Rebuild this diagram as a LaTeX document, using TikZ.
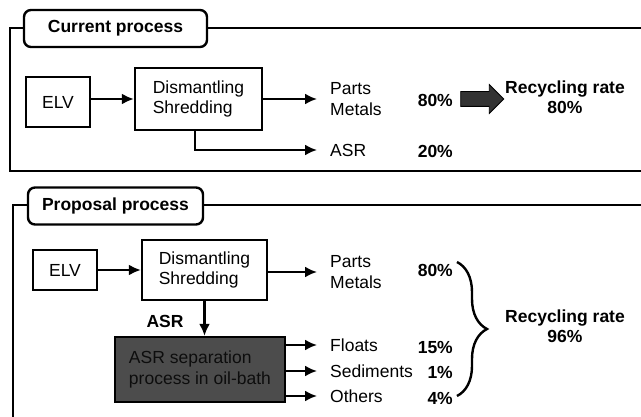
\documentclass[tikz,border=0pt]{standalone}
\usepackage{fontspec}
\setmainfont{Liberation Sans}
\usetikzlibrary{arrows.meta,positioning,shapes.arrows,decorations.pathreplacing}

\begin{document}
\begin{tikzpicture}[x=1pt,y=-1pt]
\tikzstyle{every node}=[font=\fontsize{17.5}{20.5}\selectfont]
\tikzstyle{frame}=[line width=2.4pt]
\tikzstyle{title}=[draw,line width=2.4pt,rounded corners=7pt,fill=white,font=\fontsize{17.5}{20.5}\selectfont\bfseries,minimum height=37pt]
\tikzstyle{stepbox}=[draw,line width=2.4pt,inner sep=0pt]
\tikzstyle{item}=[anchor=west,align=left,inner xsep=13pt,inner ysep=0pt]
\tikzstyle{pct}=[anchor=east,inner sep=0pt,font=\fontsize{17.5}{20.5}\selectfont\bfseries]
\tikzstyle{rate}=[align=center,font=\fontsize{17.5}{20.5}\selectfont\bfseries]
\tikzstyle{flow}=[line width=2.2pt,-{Latex[length=12pt,width=11pt]}]

\useasboundingbox (0,0) rectangle (641,417);

% current process
\draw[frame] (641,28) -- (10,28) -- (10,171) -- (641,171);
\node[title,minimum width=183pt] (cur) at (115.5,28.5) {Current process};
\node[stepbox,minimum width=64pt,minimum height=50pt] (elv1) at (58,102) {ELV};
\node[stepbox,align=left,minimum width=127pt,minimum height=62pt] (dis1) at (198.5,99) {Dismantling\\Shredding};
\node[item] (pm1) at (317,99) {Parts\\Metals};
\node[item] (asr1) at (317,150) {ASR};
\node[pct] (p80a) at (453,100) {80\%};
\node[pct] (p20a) at (453,151) {20\%};
\node[single arrow,draw,fill=black!80,line width=0.8pt,inner sep=0pt,minimum height=43pt,
  text height=14pt,single arrow head extend=7pt] (big) at (478.5,99) {};
\node[rate] (rate1) at (565,97) {Recycling rate\\80\%};

\draw[flow] (elv1.east |- dis1.west) -- (dis1.west);
\draw[flow] (dis1.east) -- (pm1.west);
\draw[flow] ([xshift=-3.5pt]dis1.south) |- (asr1.west);

% proposal process
\draw[frame] (641,205) -- (13,205) -- (13,417);
\node[title,minimum width=175pt] (prop) at (115.5,206) {Proposal process};
\node[stepbox,minimum width=64pt,minimum height=40pt] (elv2) at (65,270) {ELV};
\node[stepbox,align=left,minimum width=125pt,minimum height=60pt] (dis2) at (204.5,270) {Dismantling\\Shredding};
\node[item] (pm2) at (317,272) {Parts\\Metals};
\node[stepbox,fill=black!70,text=black!95,align=left,minimum width=170pt,minimum height=65pt] (oil) at (200,369.5) {ASR separation\\process in oil-bath};
\node[item] (flo) at (317,345) {Floats};
\node[item] (sed) at (317,371) {Sediments};
\node[item] (oth) at (317,396) {Others};
\node[pct] (p80b) at (453,270) {80\%};
\node[pct] (p15) at (453,347) {15\%};
\node[pct] (p1) at (453,372) {1\%};
\node[pct] (p4) at (453,398) {4\%};
\node[pct,anchor=center] (asr2) at (165,321) {ASR};
\node[rate] (rate2) at (565,326) {Recycling rate\\96\%};

\draw[flow] (elv2) -- (dis2);
\draw[flow] (dis2.east |- pm2.west) -- (pm2.west);
\draw[flow] (dis2.south) -- (dis2.south |- oil.north);
\draw[flow] (oil.east |- flo.west) -- (flo.west);
\draw[flow] (oil.east |- sed.west) -- (sed.west);
\draw[flow] (oil.east |- oth.west) -- (oth.west);

\coordinate (btop) at (457,262);
\coordinate (bbot) at (457,396);
\draw[frame,decorate,decoration={brace,amplitude=30pt}] (btop) -- (bbot);
\end{tikzpicture}
\end{document}
